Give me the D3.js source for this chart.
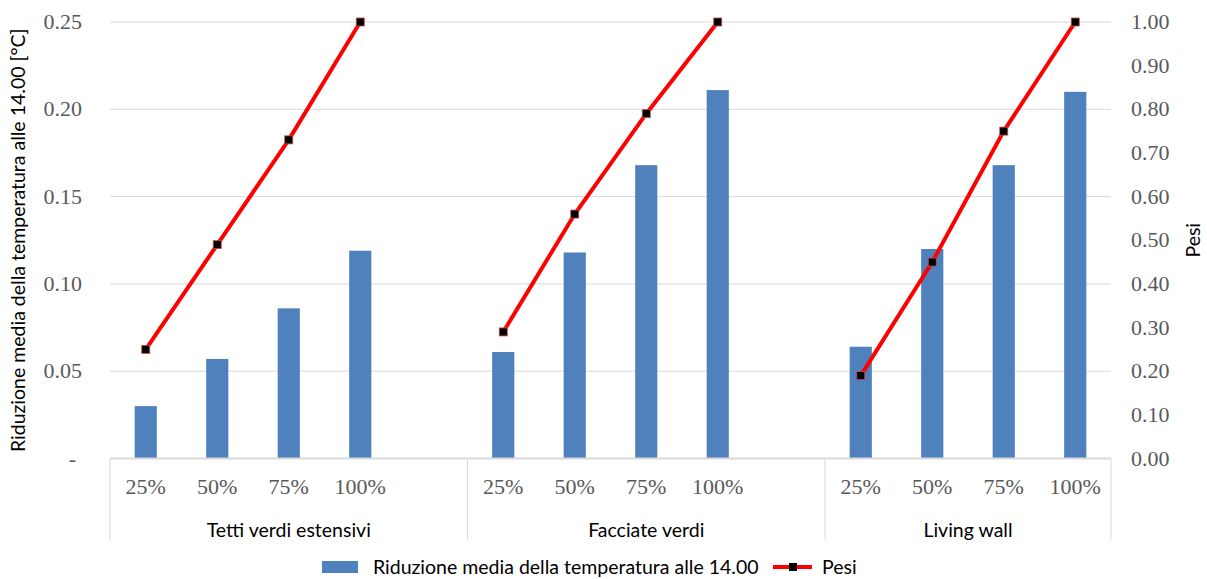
<!DOCTYPE html>
<html>
<head>
<meta charset="utf-8">
<script src="https://cdn.jsdelivr.net/npm/d3@7"></script>
<style>
  body { margin: 0; background: #fff; }
  text { font-family: Lato, "Liberation Sans", sans-serif; }
  .num { font-family: "Liberation Serif", serif; font-size: 22px; fill: #595959; }
</style>
</head>
<body>
<div id="chart"></div>
<script>
var groups = ['Tetti verdi estensivi', 'Facciate verdi', 'Living wall'];
var levels = ['25%', '50%', '75%', '100%'];
var riduzione = [
    [0.030, 0.057, 0.086, 0.119],
    [0.061, 0.118, 0.168, 0.211],
    [0.064, 0.120, 0.168, 0.210]
];
var pesi = [
    [0.25, 0.49, 0.73, 1.00],
    [0.29, 0.56, 0.79, 1.00],
    [0.19, 0.45, 0.75, 1.00]
];
var leftTicks = [0, 0.05, 0.10, 0.15, 0.20, 0.25];
var rightTicks = [0, 0.1, 0.2, 0.3, 0.4, 0.5, 0.6, 0.7, 0.8, 0.9, 1.0];

var width = 1207,
    height = 579,
    plotLeft = 110, plotRight = 1111, plotTop = 22, plotBottom = 458.5;

// category slots: 4 levels + empty slot after every group except the last
var slots = [];
groups.forEach(function(g, gi) {
    levels.forEach(function(l, li) { slots.push(gi + '-' + li); });
    if (gi < groups.length - 1) slots.push(gi + '-blank');
});

var x = d3.scaleBand().domain(slots).range([plotLeft, plotRight]).padding(0);
var barW = x.bandwidth() * 0.31;
var y = d3.scaleLinear().domain([0, 0.25]).range([plotBottom, plotTop]);
var y2 = d3.scaleLinear().domain([0, 1]).range([plotBottom, plotTop]);

var svg = d3.select('#chart').append('svg')
    .attr('width', width)
    .attr('height', height);

// gridlines
svg.append('g').selectAll('line')
    .data(leftTicks.slice(1))
    .enter().append('line')
    .attr('x1', plotLeft).attr('x2', plotRight)
    .attr('y1', function(d) { return y(d); })
    .attr('y2', function(d) { return y(d); })
    .attr('stroke', '#d9d9d9').attr('stroke-width', 1);

// bars
var barData = [];
groups.forEach(function(g, gi) {
    levels.forEach(function(l, li) {
        barData.push({key: gi + '-' + li, level: l, value: riduzione[gi][li], peso: pesi[gi][li], group: gi});
    });
});

svg.append('g').selectAll('rect')
    .data(barData)
    .enter().append('rect')
    .attr('x', function(d) { return x(d.key) + (x.bandwidth() - barW) / 2; })
    .attr('y', function(d) { return y(d.value); })
    .attr('width', barW)
    .attr('height', function(d) { return y(0) - y(d.value); })
    .attr('fill', '#4f81bd');

// category axis lines
svg.append('line')
    .attr('x1', plotLeft).attr('x2', plotRight)
    .attr('y1', plotBottom).attr('y2', plotBottom)
    .attr('stroke', '#d9d9d9').attr('stroke-width', 2);

var bounds = groups.map(function(g, gi) { return x(gi + '-0'); });
bounds.push(plotRight);
svg.append('g').selectAll('line')
    .data(bounds)
    .enter().append('line')
    .attr('x1', function(d) { return d; })
    .attr('x2', function(d) { return d; })
    .attr('y1', plotBottom).attr('y2', 540)
    .attr('stroke', '#d9d9d9').attr('stroke-width', 1);

// level labels
svg.append('g').selectAll('text')
    .data(barData)
    .enter().append('text')
    .attr('class', 'num')
    .attr('x', function(d) { return x(d.key) + x.bandwidth() / 2; })
    .attr('y', 494)
    .attr('text-anchor', 'middle')
    .text(function(d) { return d.level; });

// group labels
svg.append('g').selectAll('text')
    .data(groups)
    .enter().append('text')
    .attr('x', function(d, i) { return (bounds[i] + bounds[i + 1]) / 2; })
    .attr('y', 537)
    .attr('text-anchor', 'middle')
    .attr('font-size', 19.5)
    .attr('fill', '#000')
    .text(function(d) { return d; });

// pesi line, one segment per group
var line = d3.line()
    .x(function(d) { return x(d.key) + x.bandwidth() / 2; })
    .y(function(d) { return y2(d.peso); });

groups.forEach(function(g, gi) {
    var pts = barData.filter(function(d) { return d.group === gi; });
    svg.append('path')
        .datum(pts)
        .attr('d', line)
        .attr('fill', 'none')
        .attr('stroke', '#ff0000')
        .attr('stroke-width', 4);
});

svg.append('g').selectAll('rect')
    .data(barData)
    .enter().append('rect')
    .attr('x', function(d) { return x(d.key) + x.bandwidth() / 2 - 4; })
    .attr('y', function(d) { return y2(d.peso) - 4; })
    .attr('width', 8).attr('height', 8)
    .attr('fill', '#000')
    .attr('stroke', '#c0504d').attr('stroke-width', 0.8);

// left axis labels
svg.append('g').selectAll('text')
    .data(leftTicks)
    .enter().append('text')
    .attr('class', 'num')
    .attr('x', function(d) { return d === 0 ? 76 : 82; })
    .attr('y', function(d) { return y(d) + 7; })
    .attr('text-anchor', 'end')
    .text(function(d) { return d === 0 ? '-' : d3.format('.2f')(d); });

// right axis labels
svg.append('g').selectAll('text')
    .data(rightTicks)
    .enter().append('text')
    .attr('class', 'num')
    .attr('x', 1131)
    .attr('y', function(d) { return y2(d) + 7; })
    .attr('text-anchor', 'start')
    .text(function(d) { return d3.format('.2f')(d); });

// axis titles
svg.append('text')
    .attr('transform', 'translate(25,' + (plotTop + plotBottom) / 2 + ') rotate(-90)')
    .attr('text-anchor', 'middle')
    .attr('font-size', 19.5)
    .text('Riduzione media della temperatura alle 14.00 [°C]');

svg.append('text')
    .attr('transform', 'translate(1200,' + (plotTop + plotBottom) / 2 + ') rotate(-90)')
    .attr('text-anchor', 'middle')
    .attr('font-size', 19.5)
    .text('Pesi');

// legend
var legend = svg.append('g').attr('transform', 'translate(0,567)');
legend.append('rect')
    .attr('x', 322).attr('y', -6).attr('width', 36).attr('height', 12)
    .attr('fill', '#4f81bd');
legend.append('text')
    .attr('x', 373).attr('y', 6.5)
    .attr('font-size', 19.5)
    .text('Riduzione media della temperatura alle 14.00');
legend.append('line')
    .attr('x1', 773).attr('x2', 812).attr('y1', 0).attr('y2', 0)
    .attr('stroke', '#ff0000').attr('stroke-width', 4);
legend.append('rect')
    .attr('x', 789).attr('y', -4).attr('width', 8).attr('height', 8)
    .attr('fill', '#000');
legend.append('text')
    .attr('x', 822).attr('y', 6.5)
    .attr('font-size', 19.5)
    .text('Pesi');
</script>
</body>
</html>
